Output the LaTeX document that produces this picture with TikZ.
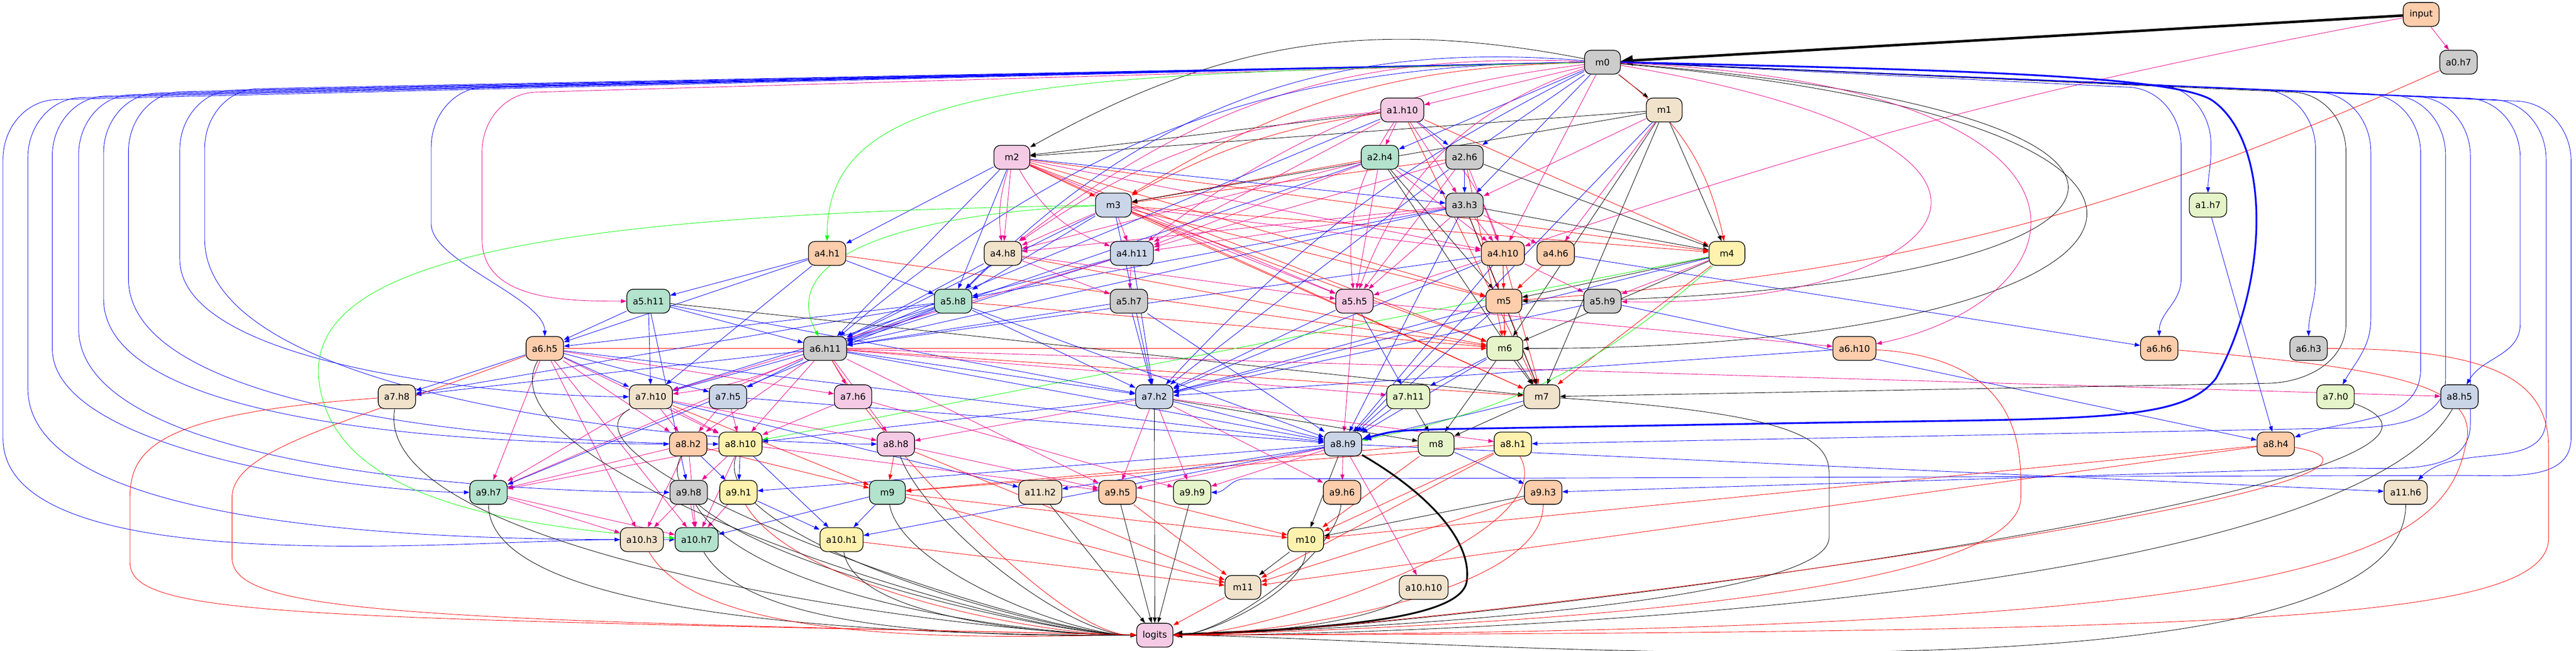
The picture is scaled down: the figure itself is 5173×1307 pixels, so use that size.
\documentclass[tikz,border=0pt]{standalone}
\usepackage{fontspec}
\setmainfont{DejaVu Sans}
\usetikzlibrary{arrows.meta, backgrounds}
\definecolor{gy}{HTML}{CCCCCC}
\definecolor{pk}{HTML}{F4CAE4}
\definecolor{gr}{HTML}{B3E2CD}
\definecolor{bu}{HTML}{CBD5E8}
\definecolor{or}{HTML}{FDCDAC}
\definecolor{be}{HTML}{F1E2CC}
\definecolor{ye}{HTML}{FFF2AE}
\definecolor{lg}{HTML}{E6F5C9}
\tikzstyle{every picture} = [x=0.2pt, y=0.2pt]

\begin{document}
\begin{tikzpicture} [box/.style={draw, line width=0.28pt, rounded corners=2.6pt, minimum width=14.4pt, minimum height=9.6pt, inner xsep=2.4pt, inner ysep=0pt, font=\fontsize{3.6}{4.2}\selectfont},
  ed/.style={line width=0.18pt, -{Triangle[length=2.2pt, width=1.6pt]}},
  bl/.style={ed, blue}, mg/.style={ed, magenta}, rd/.style={ed, red}, bk/.style={ed, black}, gn/.style={ed, green}]
            \useasboundingbox (0,0) rectangle (5173,-1307);

            \node (input) [box, fill=or] at (4862,-29) {input};
            \node (m0) [box, fill=gy] at (3218,-125) {m0};
            \node (a0h7) [box, fill=gy] at (4937,-125) {a0.h7};
            \node (a1h10) [box, fill=pk] at (2816,-221) {a1.h10};
            \node (m1) [box, fill=be] at (3342,-221) {m1};
            \node (m2) [box, fill=pk] at (2032,-316) {m2};
            \node (a2h4) [box, fill=gr] at (2771,-316) {a2.h4};
            \node (a2h6) [box, fill=gy] at (2941,-316) {a2.h6};
            \node (m3) [box, fill=bu] at (2236,-412) {m3};
            \node (a3h3) [box, fill=gy] at (2941,-412) {a3.h3};
            \node (a1h7) [box, fill=lg] at (4434,-412) {a1.h7};
            \node (a4h1) [box, fill=or] at (1661,-509) {a4.h1};
            \node (a4h8) [box, fill=be] at (2014,-509) {a4.h8};
            \node (a4h11) [box, fill=bu] at (2273,-509) {a4.h11};
            \node (a4h10) [box, fill=or] at (3018,-509) {a4.h10};
            \node (a4h6) [box, fill=or] at (3124,-509) {a4.h6};
            \node (m4) [box, fill=ye] at (3468,-509) {m4};
            \node (a5h11) [box, fill=gr] at (1302,-605) {a5.h11};
            \node (a5h8) [box, fill=gr] at (1914,-605) {a5.h8};
            \node (a5h7) [box, fill=gy] at (2267,-605) {a5.h7};
            \node (a5h5) [box, fill=pk] at (2720,-605) {a5.h5};
            \node (m5) [box, fill=or] at (3020,-605) {m5};
            \node (a5h9) [box, fill=gy] at (3218,-605) {a5.h9};
            \node (a6h5) [box, fill=or] at (1094,-700) {a6.h5};
            \node (a6h11) [box, fill=gy] at (1657,-700) {a6.h11};
            \node (m6) [box, fill=lg] at (3022,-700) {m6};
            \node (a6h10) [box, fill=or] at (3724,-700) {a6.h10};
            \node (a6h6) [box, fill=or] at (4336,-700) {a6.h6};
            \node (a6h3) [box, fill=gy] at (4636,-700) {a6.h3};
            \node (a7h8) [box, fill=be] at (797,-797) {a7.h8};
            \node (a7h10) [box, fill=be] at (1307,-797) {a7.h10};
            \node (a7h5) [box, fill=bu] at (1462,-797) {a7.h5};
            \node (a7h6) [box, fill=pk] at (1713,-797) {a7.h6};
            \node (a7h2) [box, fill=bu] at (2318,-797) {a7.h2};
            \node (a7h11) [box, fill=lg] at (2828,-797) {a7.h11};
            \node (m7) [box, fill=be] at (3096,-797) {m7};
            \node (a7h0) [box, fill=lg] at (4690,-797) {a7.h0};
            \node (a8h5) [box, fill=bu] at (4939,-797) {a8.h5};
            \node (a8h2) [box, fill=or] at (1382,-892) {a8.h2};
            \node (a8h10) [box, fill=ye] at (1487,-892) {a8.h10};
            \node (a8h8) [box, fill=pk] at (1799,-892) {a8.h8};
            \node (a8h9) [box, fill=bu] at (2697,-892) {a8.h9};
            \node (m8) [box, fill=lg] at (2884,-892) {m8};
            \node (a8h1) [box, fill=ye] at (3038,-892) {a8.h1};
            \node (a8h4) [box, fill=or] at (4570,-892) {a8.h4};
            \node (a9h7) [box, fill=gr] at (981,-989) {a9.h7};
            \node (a9h8) [box, fill=gy] at (1383,-989) {a9.h8};
            \node (a9h1) [box, fill=ye] at (1483,-989) {a9.h1};
            \node (m9) [box, fill=gr] at (1782,-989) {m9};
            \node (a11h2) [box, fill=be] at (2089,-989) {a11.h2};
            \node (a9h5) [box, fill=or] at (2244,-989) {a9.h5};
            \node (a9h9) [box, fill=lg] at (2394,-989) {a9.h9};
            \node (a9h6) [box, fill=or] at (2695,-989) {a9.h6};
            \node (a9h3) [box, fill=or] at (3099,-989) {a9.h3};
            \node (a11h6) [box, fill=be] at (4831,-989) {a11.h6};
            \node (a10h3) [box, fill=be] at (1289,-1084) {a10.h3};
            \node (a10h7) [box, fill=gr] at (1399,-1084) {a10.h7};
            \node (a10h1) [box, fill=ye] at (1690,-1084) {a10.h1};
            \node (m10) [box, fill=ye] at (2622,-1084) {m10};
            \node (m11) [box, fill=be] at (2496,-1180) {m11};
            \node (a10h10) [box, fill=be] at (2859,-1180) {a10.h10};
            \node (logits) [box, fill=pk] at (2319,-1276) {logits};

            \begin{scope}[on background layer]
            \path (input) edge[bk, line width=1pt, -{Triangle[length=4.8pt, width=4pt]}] (m0)
                  (input) edge[mg] (a0h7)
                  (input) edge[mg, bend right=4] (a4h10)
                  (m0) edge[mg] (a1h10)
                  (m0) edge[bk] (m1)
                  (m0) edge[bk, bend right=20] (m2)
                  (a1h10) edge[bk] (m2)
                  (m1) edge[bk] (m2)
                  (m0) edge[bl] (a2h4)
                  (a1h10) edge[mg] (a2h4)
                  (m0) edge[bl] (a2h6)
                  (a1h10) edge[bl] (a2h6)
                  (m0) edge[rd, bend right=15] (m3)
                  (m2) edge[rd] (m3)
                  (a1h10) edge[rd, bend right=10] (m3)
                  (a2h4) edge[rd] (m3)
                  (a2h6) edge[rd] (m3)
                  (m1) edge[bk] (m3)
                  (m0) edge[bl] (a3h3)
                  (a2h4) edge[bl] (a3h3)
                  (a2h6) edge[bl] (a3h3)
                  (a1h10) edge[mg] (a3h3)
                  (m1) edge[mg] (a3h3)
                  (m2) edge[bl] (a3h3);

            \path (m2) edge[bl] (a4h1)
                  (m0) edge[mg, bend right=20] (a4h8)
                  (m2) edge[mg, bend right=12] (a4h8)
                  (m2) edge[mg] (a4h8)
                  (m3) edge[mg] (a4h8)
                  (a3h3) edge[mg] (a4h8)
                  (a2h4) edge[mg] (a4h8)
                  (a1h10) edge[mg, bend right=15] (a4h8)
                  (m0) edge[mg, bend right=15] (a4h11)
                  (m2) edge[mg, bend right=20] (a4h11)
                  (m3) edge[mg] (a4h11)
                  (a1h10) edge[mg] (a4h11)
                  (a2h4) edge[mg] (a4h11)
                  (a2h6) edge[mg] (a4h11)
                  (a3h3) edge[mg] (a4h11)
                  (m0) edge[mg] (a4h10)
                  (a1h10) edge[mg, bend left=15] (a4h10)
                  (a2h4) edge[mg] (a4h10)
                  (a2h6) edge[mg] (a4h10)
                  (a3h3) edge[mg] (a4h10)
                  (m2) edge[mg] (a4h10)
                  (m3) edge[mg] (a4h10)
                  (m1) edge[mg] (a4h6)
                  (a3h3) edge[mg] (a4h6)
                  (m0) edge[rd, bend left=20] (m4)
                  (m1) edge[bk] (m4)
                  (a1h10) edge[rd] (m4)
                  (a2h6) edge[bk] (m4)
                  (a3h3) edge[bk] (m4)
                  (m3) edge[rd] (m4)
                  (m2) edge[rd] (m4);

            \path (a4h1) edge[bl] (a5h11)
                  (m0) edge[bl, bend right=25] (a5h8)
                  (m2) edge[bl] (a5h8)
                  (m3) edge[bl] (a5h8)
                  (a4h8) edge[bl] (a5h8)
                  (a4h1) edge[bl] (a5h8)
                  (a4h11) edge[bl] (a5h8)
                  (a3h3) edge[bl] (a5h8)
                  (a4h11) edge[mg] (a5h7)
                  (a4h8) edge[mg] (a5h7)
                  (m0) edge[mg, bend right=25] (a5h5)
                  (a1h10) edge[mg, bend right=20] (a5h5)
                  (a2h4) edge[mg] (a5h5)
                  (a2h6) edge[mg] (a5h5)
                  (a3h3) edge[mg] (a5h5)
                  (m2) edge[mg] (a5h5)
                  (m3) edge[mg] (a5h5)
                  (a4h10) edge[mg] (a5h5)
                  (a4h8) edge[mg] (a5h5)
                  (a3h3) edge[rd] (m5)
                  (a4h10) edge[rd] (m5)
                  (a4h6) edge[rd] (m5)
                  (m3) edge[rd] (m5)
                  (m2) edge[rd] (m5)
                  (a2h4) edge[bk] (m5)
                  (m4) edge[bk] (m5)
                  (a0h7) edge[rd, bend left=10] (m5)
                  (a4h10) edge[mg] (a5h9)
                  (m4) edge[mg] (a5h9);

            \path (a4h1) edge[bl] (a6h5)
                  (a5h8) edge[bl] (a6h5)
                  (a5h11) edge[bl] (a6h5)
                  (m0) edge[bl, bend right=20] (a6h11)
                  (m2) edge[bl] (a6h11)
                  (m3) edge[bl] (a6h11)
                  (a3h3) edge[bl] (a6h11)
                  (a4h8) edge[bl] (a6h11)
                  (a4h11) edge[bl] (a6h11)
                  (a5h8) edge[bl] (a6h11)
                  (a5h7) edge[bl] (a6h11)
                  (a5h11) edge[bl] (a6h11)
                  (a2h4) edge[bl] (a6h11)
                  (a1h10) edge[bl] (a6h11)
                  (a4h10) edge[bl] (a6h11)
                  (m5) edge[rd] (m6)
                  (m4) edge[bk] (m6)
                  (a4h10) edge[rd] (m6)
                  (m2) edge[rd] (m6)
                  (m3) edge[rd] (m6)
                  (a5h8) edge[rd] (m6)
                  (a4h8) edge[rd] (m6)
                  (a2h6) edge[rd] (m6)
                  (a4h1) edge[rd] (m6)
                  (a6h5) edge[rd] (m6)
                  (m1) edge[bk] (m6)
                  (a5h5) edge[mg] (a6h10)
                  (a4h6) edge[bl] (a6h6);

            \path (a6h5) edge[bl] (a7h8)
                  (a6h11) edge[bl] (a7h8)
                  (a5h8) edge[bl] (a7h8)
                  (a6h5) edge[bl] (a7h10)
                  (a5h11) edge[bl] (a7h10)
                  (a4h1) edge[bl] (a7h10)
                  (a6h11) edge[bl] (a7h10)
                  (a5h8) edge[bl] (a7h10)
                  (a6h11) edge[mg, bend left=8] (a7h10)
                  (a4h11) edge[mg] (a7h10)
                  (a6h11) edge[bl] (a7h5)
                  (a6h5) edge[bl] (a7h5)
                  (a6h5) edge[mg] (a7h6)
                  (a6h11) edge[mg] (a7h6)
                  (a6h11) edge[bl] (a7h2)
                  (a5h7) edge[bl] (a7h2)
                  (a5h8) edge[bl] (a7h2)
                  (a4h11) edge[bl] (a7h2)
                  (m0) edge[bl, bend right=10] (a7h2)
                  (a4h10) edge[bl] (a7h2)
                  (a5h9) edge[bl] (a7h2)
                  (a5h5) edge[bl] (a7h2)
                  (m4) edge[bl] (a7h2)
                  (a6h10) edge[bl] (a7h2)
                  (m5) edge[bl] (a7h2)
                  (m3) edge[bl] (a7h2)
                  (a2h6) edge[bl] (a7h2)
                  (a5h11) edge[bl] (a7h2)
                  (a5h5) edge[bl] (a7h11)
                  (m6) edge[bl] (a7h11)
                  (a6h11) edge[mg] (a7h11)
                  (m6) edge[bk] (m7)
                  (m5) edge[rd] (m7)
                  (m4) edge[rd] (m7)
                  (m2) edge[rd] (m7)
                  (m3) edge[rd] (m7)
                  (m1) edge[bk] (m7)
                  (a4h10) edge[rd] (m7)
                  (a1h10) edge[rd] (m7)
                  (a6h11) edge[rd] (m7)
                  (a2h4) edge[bk] (m7)
                  (a3h3) edge[bk] (m7)
                  (a5h11) edge[bk] (m7)
                  (a6h11) edge[mg] (a8h5);

            \path (a7h10) edge[mg] (a8h2)
                  (a6h5) edge[mg] (a8h2)
                  (a7h5) edge[mg] (a8h2)
                  (a6h11) edge[mg] (a8h2)
                  (a7h10) edge[mg] (a8h10)
                  (a6h5) edge[mg] (a8h10)
                  (a7h5) edge[mg] (a8h10)
                  (a6h11) edge[mg] (a8h10)
                  (a7h6) edge[mg] (a8h10)
                  (m4) edge[gn] (a8h10)
                  (a7h2) edge[bl] (a8h10)
                  (a7h10) edge[mg] (a8h8)
                  (a6h11) edge[mg] (a8h8)
                  (a7h2) edge[mg] (a8h8)
                  (a7h2) edge[bl] (a8h9)
                  (a7h11) edge[bl] (a8h9)
                  (m6) edge[bl] (a8h9)
                  (a6h11) edge[bl] (a8h9)
                  (a5h8) edge[bl] (a8h9)
                  (a6h5) edge[bl] (a8h9)
                  (m5) edge[bl] (a8h9)
                  (a5h7) edge[bl] (a8h9)
                  (a7h5) edge[bl] (a8h9)
                  (a4h10) edge[bl] (a8h9)
                  (m7) edge[bl] (a8h9)
                  (m1) edge[bl] (a8h9)
                  (a3h3) edge[bl] (a8h9)
                  (m4) edge[gn, bend left=15] (a8h9)
                  (a5h5) edge[mg] (a8h9)
                  (a7h11) edge[bk] (m8)
                  (m7) edge[bk] (m8)
                  (m6) edge[bk] (m8)
                  (a7h2) edge[bk] (m8)
                  (a7h2) edge[mg] (a8h1)
                  (a5h9) edge[bl] (a8h4)
                  (a1h7) edge[bl] (a8h4);

            \path (a6h5) edge[mg] (a9h7)
                  (a7h10) edge[mg] (a9h7)
                  (a8h2) edge[mg] (a9h7)
                  (a8h10) edge[mg] (a9h7)
                  (a6h11) edge[mg] (a9h7)
                  (a5h8) edge[bl] (a9h7)
                  (a8h10) edge[mg] (a9h8)
                  (a5h11) edge[bl] (a9h8)
                  (a8h2) edge[bl] (a9h1)
                  (a8h10) edge[bl] (a9h1)
                  (a8h9) edge[bl] (a9h1)
                  (a8h8) edge[rd] (m9)
                  (a8h2) edge[rd] (m9)
                  (m8) edge[rd] (m9)
                  (a7h10) edge[rd] (m9)
                  (a8h1) edge[rd] (m9)
                  (a7h10) edge[bl] (a11h2)
                  (a8h9) edge[bl] (a11h2)
                  (a8h8) edge[mg] (a9h5)
                  (a8h10) edge[mg] (a9h5)
                  (a7h2) edge[mg] (a9h5)
                  (a8h9) edge[mg] (a9h5)
                  (a6h11) edge[mg] (a9h5)
                  (a7h2) edge[mg] (a9h9)
                  (a8h9) edge[mg] (a9h9)
                  (a7h6) edge[mg] (a9h9)
                  (a8h9) edge[mg] (a9h6)
                  (a7h2) edge[mg] (a9h6)
                  (m8) edge[bl] (a9h3)
                  (a8h9) edge[bl] (a11h6);

            \path (a9h7) edge[mg] (a10h3)
                  (a8h2) edge[mg] (a10h3)
                  (a9h8) edge[mg] (a10h3)
                  (a6h5) edge[mg] (a10h3)
                  (a9h8) edge[mg] (a10h7)
                  (a8h2) edge[mg] (a10h7)
                  (a9h1) edge[mg] (a10h7)
                  (a8h10) edge[mg] (a10h7)
                  (a9h7) edge[mg] (a10h7)
                  (a6h5) edge[mg] (a10h7)
                  (m9) edge[bl] (a10h7)
                  (a9h1) edge[bl] (a10h1)
                  (a8h10) edge[bl] (a10h1)
                  (a8h9) edge[bl] (a10h1)
                  (m9) edge[bl] (a10h1)
                  (a8h9) edge[bk] (m10)
                  (a9h3) edge[bk] (m10)
                  (a9h5) edge[rd] (m10)
                  (m8) edge[rd] (m10)
                  (a8h1) edge[rd] (m10)
                  (m9) edge[rd] (m10)
                  (a8h4) edge[rd] (m10)
                  (m10) edge[bk] (m11)
                  (a10h1) edge[rd] (m11)
                  (m9) edge[rd] (m11)
                  (a9h5) edge[rd] (m11)
                  (a8h8) edge[rd] (m11)
                  (a9h3) edge[rd] (m11)
                  (a8h4) edge[rd] (m11)
                  (a8h1) edge[rd] (m11)
                  (a8h9) edge[mg] (a10h10)
                  (m11) edge[rd] (logits)
                  (a9h5) edge[bk] (logits)
                  (a7h2) edge[bk] (logits)
                  (a9h9) edge[bk] (logits)
                  (a11h2) edge[bk] (logits);

            \foreach \tg/\xt/\yt/\yv/\ia in {a10h3/6/-200/-880/180, a10h7/56/-196/-780/180, a9h7/105/-193/-700/180, a9h8/158/-190/-660/180, a8h2/208/-187/-600/180, a8h10/258/-184/-560/180, a7h10/361/-181/-520/180, a8h8/411/-178/-480/180, a6h5/866/-175/-450/90}
              \draw[bl] (m0.west) -- (\xt+110,\yt) to[out=180, in=90] (\xt,\yt-120) -- (\xt,\yv) to[out=-90, in=\ia, looseness=0.6] (\tg);
            \draw[mg] (m0.west) -- (1080,-185) to[out=180, in=90] (968,-305) -- (968,-480) to[out=-90, in=180] (a5h11);

            \foreach \tg/\xt/\yt/\yv/\ia in {a1h7/4440/-170/-300/90, a6h6/4380/-175/-560/90, a6h3/4650/-180/-560/90, a7h0/4761/-185/-640/60, a8h4/4861/-188/-740/20, a8h5/5061/-197/-650/60, a11h6/5113/-200/-840/45}
              \draw[bl] (m0.east) -- (\xt-110,\yt) to[out=0, in=90] (\xt,\yt-120) -- (\xt,\yv) to[out=-90, in=\ia] (\tg);
            \draw[bl] (m0.east) -- (4800,-191) to[out=0, in=90] (4911,-311) -- (4911,-760) to[out=-90, in=0] (4700,-860) -- (a8h1);
            \draw[bl] (m0.east) -- (4850,-194) to[out=0, in=90] (4961,-314) -- (4961,-850) to[out=-90, in=0] (4700,-940) -- (a9h3);
            \draw[bl] (m0.east) -- (5050,-203) to[out=0, in=90] (5163,-323) -- (5163,-880) to[out=-90, in=0] (4950,-955) -- (2500,-962) to[out=180, in=0] (a9h9);
            \draw[bk] (m0.east) -- (4600,-185) to[out=0, in=90] (4711,-305) -- (4711,-650) to[out=-90, in=0] (4550,-770) -- (m7);
            \draw[bl, line width=0.7pt, -{Triangle[length=3.6pt, width=2.8pt]}] (m0.east) .. controls (3900,-140) and (4350,-150) .. (4440,-200) .. controls (4560,-280) and (4560,-560) .. (4450,-760) .. controls (4380,-850) and (4200,-840) .. (3600,-850) -- (2900,-862) .. controls (2800,-865) .. (a8h9);
            \draw[bk, line width=0.7pt, -{Triangle[length=3.6pt, width=2.8pt]}] (a8h9) .. controls (2850,-980) and (2960,-1080) .. (2945,-1170) .. controls (2930,-1240) and (2700,-1262) .. (logits);

            \draw[gn] (m0) .. controls (2100,-150) and (1660,-160) .. (a4h1);
            \draw[gn] (m3) .. controls (1800,-430) and (1560,-520) .. (a6h11);
            \draw[gn] (m3) .. controls (1100,-430) and (620,-520) .. (640,-760) .. controls (660,-960) and (900,-1050) .. (a10h7);
            \draw[bk] (m0) .. controls (4600,-230) and (4350,-600) .. (m5);
            \draw[bk] (m0) .. controls (4650,-250) and (4400,-700) .. (m6);
            \draw[mg] (m0) .. controls (4300,-170) and (4200,-600) .. (a6h10);
            \draw[mg] (m0) .. controls (4250,-300) and (3900,-620) .. (a5h9);

            \foreach \sr/\cl/\ob/\lo in {a9h3/rd/-90/0.6, a8h1/rd/-60/0.6, m10/bk/-90/0.6, a10h10/bk/-150/0.6, a9h6/bk/-95/0.6, a11h6/bk/-90/0.45, a8h5/bk/-120/0.45, a7h0/bk/-20/0.5, a8h4/rd/-10/0.5}
              \path (\sr) edge[\cl, out=\ob, in=0, looseness=\lo] (logits);
            \foreach \sr/\cl/\ob/\lo in {a9h7/bk/-90/0.5, a10h3/rd/-60/0.6, a10h7/bk/-60/0.6, a8h2/bk/-120/0.5, a8h10/bk/-110/0.5, a9h8/bk/-60/0.6, a9h1/rd/-60/0.6, a7h10/bk/-150/0.5, m9/bk/-80/0.6, a8h8/bk/-70/0.6, a10h1/bk/-80/0.6, a6h11/rd/-60/0.5, a7h8/bk/-100/0.5, a6h5/bk/-120/0.5}
              \path (\sr) edge[\cl, out=\ob, in=180, looseness=\lo] (logits);
            \draw[rd] (a7h8) .. controls (320,-830) and (261,-900) .. (261,-1000) -- (261,-1130) .. controls (261,-1240) and (600,-1240) .. (logits);
            \draw[rd] (a6h5) .. controls (700,-850) and (466,-900) .. (466,-1000) -- (466,-1120) .. controls (466,-1230) and (800,-1245) .. (logits);
            \draw[rd] (a6h10) .. controls (4060,-720) and (4060,-900) .. (4058,-1000) .. controls (4058,-1200) and (3000,-1260) .. (logits);
            \draw[bk] (m7) .. controls (3600,-830) and (3673,-880) .. (3673,-950) -- (3673,-1080) .. controls (3673,-1190) and (3000,-1255) .. (logits);
            \draw[rd] (a6h3) .. controls (5000,-700) and (5118,-760) .. (5118,-900) -- (5118,-1080) .. controls (5118,-1250) and (4500,-1270) .. (logits);
            \draw[rd] (a6h6) .. controls (4800,-740) and (4990,-772) .. (4950,-900) .. controls (4900,-1150) and (4500,-1268) .. (logits);
            \end{scope}
        \end{tikzpicture}
\end{document}
